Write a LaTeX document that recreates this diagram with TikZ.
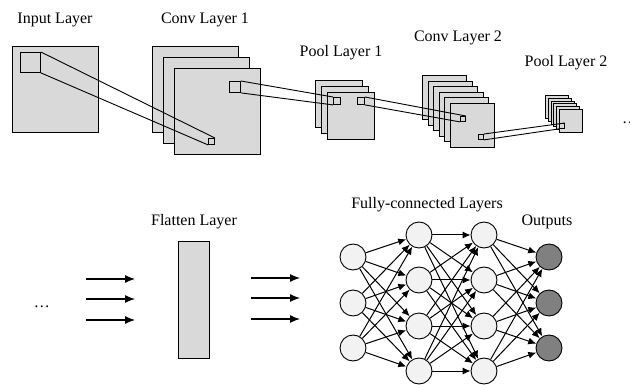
\documentclass[tikz,border=0pt]{standalone}
\usepackage{fontspec}
\setmainfont{Liberation Serif}
\usetikzlibrary{positioning,arrows.meta}
\definecolor{MapGray}{HTML}{D9D9D9}
\definecolor{NeuronGray}{HTML}{F2F2F2}
\definecolor{OutGray}{HTML}{808080}

\begin{document}
\begin{tikzpicture}[
      x=1pt, y=-1pt,
      every node/.style={font=\fontsize{16}{19}\selectfont},
      fmap/.style={draw, fill=MapGray, line width=0.9pt, anchor=north west, inner sep=0pt},
      patch/.style={draw, fill=MapGray, line width=0.9pt, anchor=north west, inner sep=0pt},
      link/.style={line width=0.9pt},
      neuron/.style={circle, draw, fill=NeuronGray, line width=0.9pt, minimum size=26pt, inner sep=0pt},
      output/.style={neuron, fill=OutGray},
      arrow/.style={line width=1.3pt, -{Latex[length=10pt,width=8pt]}},
      netarrow/.style={line width=1pt, -{Latex[length=8pt,width=7pt]}}
    ]
      \useasboundingbox (0,0) rectangle (630,385);
      % Feature maps
      \node[fmap, minimum size=86pt] (input) at (12,46) {};
      \foreach \i in {0,1,2}
        \node[fmap, minimum size=86pt] (conv1-\i) at (152+11*\i,46+11*\i) {};
      \foreach \i in {0,1,2}
        \node[fmap, minimum size=47pt] (pool1-\i) at (315+6*\i,80+6*\i) {};
      \foreach \i in {0,...,5}
        \node[fmap, minimum size=44pt] (conv2-\i) at (422+5.6*\i,75+5.6*\i) {};
      \foreach \i in {0,...,5}
        \node[fmap, minimum size=23pt] (pool2-\i) at (545+2.8*\i,95+2.8*\i) {};
      % Receptive fields
      \node[patch, minimum size=20pt] (inpatch) at (20,52) {};
      \node[patch, minimum size=6pt] (c1in) at (208,138) {};
      \node[patch, minimum size=11pt] (c1out) at (229,81) {};
      \node[patch, minimum size=7pt] (p1in) at (333,97) {};
      \node[patch, minimum size=7pt] (p1out) at (357,97) {};
      \node[patch, minimum size=5pt] (c2in) at (460,116) {};
      \node[patch, minimum size=5pt] (c2out) at (478,134) {};
      \node[patch, minimum size=5pt] (p2in) at (559,123) {};
      \draw[link] (inpatch.north east) -- (c1in.north east);
      \draw[link] (inpatch.south east) -- (c1in.south west);
      \draw[link] (c1out.north east) -- (p1in.north west);
      \draw[link] (c1out.south east) -- (p1in.south west);
      \draw[link] (p1out.north east) -- (c2in.north east);
      \draw[link] (p1out.south east) -- (c2in.south west);
      \draw[link] (c2out.north east) -- (p2in.north east);
      \draw[link] (c2out.south east) -- (p2in.south west);
      \node[anchor=base] (more) at (630,124) {\dots};
      % Labels
      \node (inlabel) at (55,20) {Input Layer};
      \node (c1label) at (205,20) {Conv Layer 1};
      \node (p1label) at (341,53) {Pool Layer 1};
      \node (c2label) at (458,38) {Conv Layer 2};
      \node (p2label) at (566,63) {Pool Layer 2};

      % Flatten layer
      \node[anchor=base] (dots) at (42,307) {\dots};
      \node[fmap, minimum width=31pt, minimum height=117pt] (flat) at (178,241) {};
      \node (flabel) at (194,222) {Flatten Layer};
      \foreach \y [count=\k] in {279,299,320} {
        \coordinate (in\k) at (86,\y);
        \coordinate (to\k) at (135,\y);
        \draw[arrow] (in\k) -- (to\k);
      }
      \foreach \y [count=\k] in {278,298,319} {
        \coordinate (from\k) at (251,\y);
        \coordinate (out\k) at (300,\y);
        \draw[arrow] (from\k) -- (out\k);
      }

      % Fully-connected part
      \foreach \y [count=\k] in {257,303,348} {
        \node[neuron] (h1-\k) at (353,\y) {};
        \node[output] (o-\k) at (549,\y) {};
      }
      \foreach \y [count=\k] in {235,280,326,371} {
        \node[neuron] (h2-\k) at (419,\y) {};
        \node[neuron] (h3-\k) at (484,\y) {};
      }
      \foreach \a in {1,2,3}
        \foreach \b in {1,...,4}
          \draw[netarrow] (h1-\a) -- (h2-\b);
      \foreach \a in {1,...,4}
        \foreach \b in {1,...,4}
          \draw[netarrow] (h2-\a) -- (h3-\b);
      \foreach \a in {1,...,4}
        \foreach \b in {1,2,3}
          \draw[netarrow] (h3-\a) -- (o-\b);
      \node (fclabel) at (427,205) {Fully-connected Layers};
      \node (olabel) at (547,222) {Outputs};
    \end{tikzpicture}
\end{document}
